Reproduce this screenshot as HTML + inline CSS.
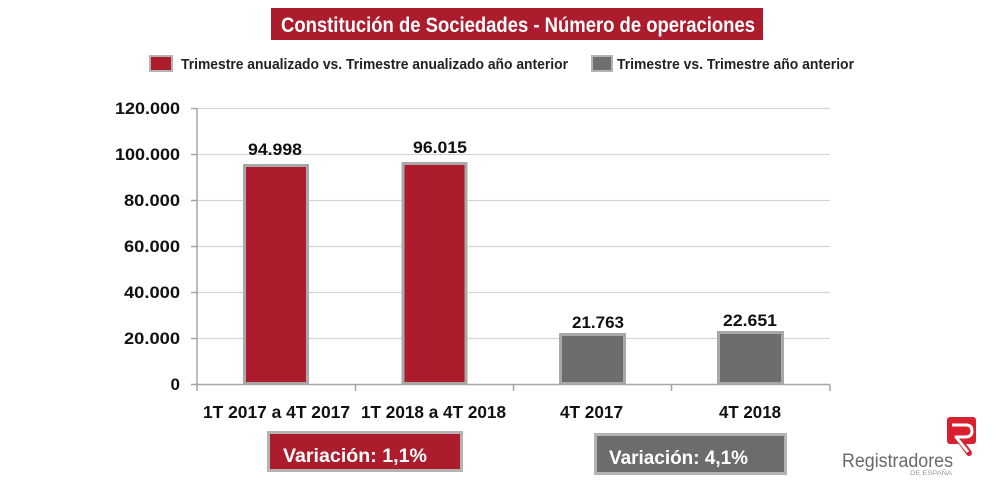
<!DOCTYPE html>
<html><head><meta charset="utf-8"><style>
html,body{margin:0;padding:0;background:#fff;}
svg{display:block;font-family:"Liberation Sans",sans-serif;}
</style></head><body>
<svg width="1000" height="500" viewBox="0 0 1000 500" xmlns="http://www.w3.org/2000/svg">
<rect width="1000" height="500" fill="#fff"/>
<!-- Title -->
<rect x="271" y="8" width="492" height="32" fill="#ad1c2c"/>
<text x="281" y="32" font-size="21" font-weight="bold" fill="#fff" textLength="474" lengthAdjust="spacingAndGlyphs">Constitución de Sociedades - Número de operaciones</text>
<!-- Legend -->
<rect x="150" y="56" width="22" height="15" fill="#ad1c2c" stroke="#b3b3b3" stroke-width="2"/>
<text x="181" y="69" font-size="14.5" font-weight="bold" fill="#222" textLength="387" lengthAdjust="spacingAndGlyphs">Trimestre anualizado vs. Trimestre anualizado año anterior</text>
<rect x="592" y="56" width="20" height="15" fill="#6f6f6d" stroke="#b3b3b3" stroke-width="2"/>
<text x="617" y="69" font-size="14.5" font-weight="bold" fill="#222" textLength="237" lengthAdjust="spacingAndGlyphs">Trimestre vs. Trimestre año anterior</text>
<!-- gridlines -->
<g stroke="#d4d4d4" stroke-width="1.3">
<line x1="197" y1="108.5" x2="830" y2="108.5"/>
<line x1="197" y1="154.5" x2="830" y2="154.5"/>
<line x1="197" y1="200.5" x2="830" y2="200.5"/>
<line x1="197" y1="246.5" x2="830" y2="246.5"/>
<line x1="197" y1="292.5" x2="830" y2="292.5"/>
<line x1="197" y1="338.5" x2="830" y2="338.5"/>
</g>
<!-- axes -->
<g stroke="#a6a6a6" stroke-width="1.5">
<line x1="197" y1="108" x2="197" y2="385"/>
<line x1="191" y1="108.5" x2="197" y2="108.5"/>
<line x1="191" y1="154.5" x2="197" y2="154.5"/>
<line x1="191" y1="200.5" x2="197" y2="200.5"/>
<line x1="191" y1="246.5" x2="197" y2="246.5"/>
<line x1="191" y1="292.5" x2="197" y2="292.5"/>
<line x1="191" y1="338.5" x2="197" y2="338.5"/>
<line x1="191" y1="384.5" x2="830" y2="384.5"/>
<line x1="197" y1="384.5" x2="197" y2="391"/>
<line x1="355.5" y1="384.5" x2="355.5" y2="391"/>
<line x1="513.5" y1="384.5" x2="513.5" y2="391"/>
<line x1="671.5" y1="384.5" x2="671.5" y2="391"/>
<line x1="830" y1="384.5" x2="830" y2="391"/>
</g>
<!-- y labels -->
<g font-size="17" font-weight="bold" fill="#111" text-anchor="end">
<text x="180" y="114" textLength="65" lengthAdjust="spacingAndGlyphs">120.000</text>
<text x="180" y="160" textLength="65" lengthAdjust="spacingAndGlyphs">100.000</text>
<text x="180" y="206" textLength="56" lengthAdjust="spacingAndGlyphs">80.000</text>
<text x="180" y="252" textLength="56" lengthAdjust="spacingAndGlyphs">60.000</text>
<text x="180" y="298" textLength="56" lengthAdjust="spacingAndGlyphs">40.000</text>
<text x="180" y="344" textLength="56" lengthAdjust="spacingAndGlyphs">20.000</text>
<text x="180" y="390">0</text>
</g>
<!-- bars -->
<g stroke="#a8a8a8" stroke-width="3">
<rect x="244.5" y="165.5" width="63" height="218" fill="#ad1c2c"/>
<rect x="403" y="163.5" width="63" height="220" fill="#ad1c2c"/>
<rect x="560.5" y="334.5" width="64" height="49" fill="#6c6e6b"/>
<rect x="718.5" y="332.5" width="64" height="51" fill="#6c6e6b"/>
</g>
<!-- value labels -->
<g font-size="17" font-weight="bold" fill="#111">
<text x="248" y="155" textLength="54" lengthAdjust="spacingAndGlyphs">94.998</text>
<text x="413" y="153" textLength="54" lengthAdjust="spacingAndGlyphs">96.015</text>
<text x="572" y="328" textLength="52" lengthAdjust="spacingAndGlyphs">21.763</text>
<text x="723" y="326" textLength="54" lengthAdjust="spacingAndGlyphs">22.651</text>
</g>
<!-- category labels -->
<g font-size="17.5" font-weight="bold" fill="#111">
<text x="203" y="418" textLength="147" lengthAdjust="spacingAndGlyphs">1T 2017 a 4T 2017</text>
<text x="361" y="418" textLength="145" lengthAdjust="spacingAndGlyphs">1T 2018 a 4T 2018</text>
<text x="560" y="418" textLength="63" lengthAdjust="spacingAndGlyphs">4T 2017</text>
<text x="719" y="418" textLength="62" lengthAdjust="spacingAndGlyphs">4T 2018</text>
</g>
<!-- variation boxes -->
<rect x="268.5" y="432.5" width="193" height="38" fill="#ad1c2c" stroke="#b3b3b3" stroke-width="3"/>
<text x="283" y="462" font-size="19" font-weight="bold" fill="#fff" textLength="144" lengthAdjust="spacingAndGlyphs">Variación:  1,1%</text>
<rect x="595.5" y="434.5" width="190" height="39" fill="#6c6d6b" stroke="#b3b3b3" stroke-width="3"/>
<text x="609" y="464" font-size="19" font-weight="bold" fill="#fff" textLength="139" lengthAdjust="spacingAndGlyphs">Variación: 4,1%</text>
<!-- logo -->
<rect x="947" y="417" width="29" height="27" rx="3" fill="#d8202f"/>
<path d="M958 438 L969 453" fill="none" stroke="#d8202f" stroke-width="6" stroke-linecap="round"/>
<path d="M952 425 H966 Q972 425 972 431 Q972 437 965 437 H956 L968 452" fill="none" stroke="#fff" stroke-width="3" stroke-linejoin="round"/>
<text x="842" y="467" font-size="19" fill="#6a6a6a" textLength="111" lengthAdjust="spacingAndGlyphs">Registradores</text>
<text x="910" y="475" font-size="6" fill="#999" textLength="42" lengthAdjust="spacingAndGlyphs">DE ESPAÑA</text>
</svg>
</body></html>
